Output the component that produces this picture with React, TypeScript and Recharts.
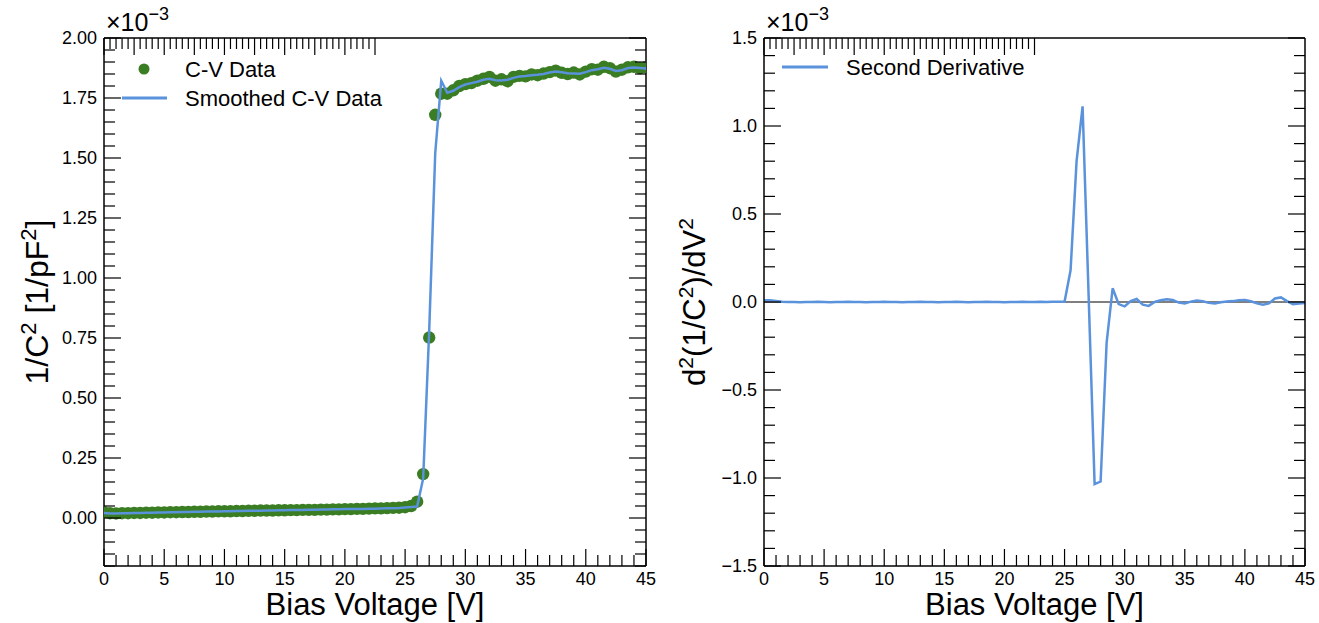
import React from 'react';
import { ComposedChart, Scatter, Line, XAxis, YAxis, ReferenceLine } from 'recharts';

// bias voltage in V
const voltage = [
  0, 0.5, 1, 1.5, 2, 2.5, 3, 3.5, 4, 4.5,
  5, 5.5, 6, 6.5, 7, 7.5, 8, 8.5, 9, 9.5,
  10, 10.5, 11, 11.5, 12, 12.5, 13, 13.5, 14, 14.5,
  15, 15.5, 16, 16.5, 17, 17.5, 18, 18.5, 19, 19.5,
  20, 20.5, 21, 21.5, 22, 22.5, 23, 23.5, 24, 24.5,
  25, 25.5, 26, 26.5, 27, 27.5, 28, 28.5, 29, 29.5,
  30, 30.5, 31, 31.5, 32, 32.5, 33, 33.5, 34, 34.5,
  35, 35.5, 36, 36.5, 37, 37.5, 38, 38.5, 39, 39.5,
  40, 40.5, 41, 41.5, 42, 42.5, 43, 43.5, 44, 44.5,
  45,
];

// 1/C^2 in units of 1e-3 / pF^2
const cvData = [
  0.024, 0.020, 0.019, 0.020, 0.020, 0.021, 0.021, 0.022, 0.022, 0.023,
  0.023, 0.024, 0.024, 0.025, 0.025, 0.026, 0.026, 0.027, 0.027, 0.028,
  0.028, 0.028, 0.029, 0.029, 0.030, 0.030, 0.031, 0.031, 0.031, 0.032,
  0.032, 0.033, 0.033, 0.034, 0.034, 0.034, 0.035, 0.035, 0.036, 0.036,
  0.037, 0.037, 0.038, 0.038, 0.039, 0.040, 0.040, 0.041, 0.042, 0.043,
  0.045, 0.050, 0.068, 0.183, 0.752, 1.680, 1.768, 1.768, 1.782, 1.800,
  1.808, 1.812, 1.822, 1.830, 1.838, 1.822, 1.828, 1.820, 1.838, 1.842,
  1.840, 1.848, 1.845, 1.852, 1.858, 1.864, 1.855, 1.850, 1.856, 1.848,
  1.860, 1.870, 1.868, 1.880, 1.874, 1.860, 1.868, 1.878, 1.880, 1.874,
  1.878,
];

const cvSmoothed = [
  0.021, 0.019, 0.019, 0.020, 0.020, 0.021, 0.021, 0.022, 0.022, 0.023,
  0.023, 0.024, 0.024, 0.025, 0.025, 0.026, 0.026, 0.027, 0.027, 0.027,
  0.028, 0.028, 0.029, 0.029, 0.030, 0.030, 0.030, 0.031, 0.031, 0.032,
  0.032, 0.033, 0.033, 0.033, 0.034, 0.034, 0.035, 0.035, 0.036, 0.036,
  0.037, 0.037, 0.038, 0.038, 0.039, 0.039, 0.040, 0.041, 0.041, 0.042,
  0.044, 0.046, 0.048, 0.165, 0.780, 1.520, 1.822, 1.772, 1.780, 1.795,
  1.806, 1.812, 1.818, 1.826, 1.830, 1.824, 1.823, 1.826, 1.834, 1.840,
  1.842, 1.845, 1.847, 1.850, 1.856, 1.860, 1.857, 1.853, 1.852, 1.851,
  1.858, 1.866, 1.870, 1.876, 1.872, 1.863, 1.866, 1.875, 1.877, 1.875,
  1.873,
];

// d2(1/C^2)/dV^2 in units of 1e-3
const secondDerivative = [
  0.010, 0.010, 0.006, 0.002, 0.000, 0.000, -0.001, 0.000, 0.000, 0.001,
  0.000, -0.001, 0.000, 0.000, 0.001, 0.000, 0.000, -0.001, 0.000, 0.000,
  0.001, 0.000, 0.000, -0.001, 0.000, 0.000, 0.001, 0.000, 0.000, -0.001,
  0.000, 0.000, 0.001, 0.000, -0.001, 0.000, 0.000, 0.001, 0.000, 0.000,
  -0.001, 0.000, 0.000, 0.001, 0.000, 0.000, 0.001, 0.000, 0.001, 0.002,
  0.002, 0.180, 0.800, 1.112, 0.040, -1.035, -1.020, -0.230, 0.078, -0.012,
  -0.025, 0.005, 0.017, -0.015, -0.022, 0.000, 0.010, 0.015, 0.012, -0.003,
  -0.008, 0.002, 0.008, 0.004, -0.005, -0.008, -0.002, 0.003, 0.005, 0.010,
  0.012, 0.004, -0.008, -0.016, -0.008, 0.020, 0.026, 0.005, -0.012, -0.008,
  -0.006,
];

const xRange = [0, 45];
const xMajorStep = 5;
const xMinorStep = 1;
const leftRange = [-0.2, 2.0];
const leftMajorStep = 0.25;
const leftMinorStep = 0.05;
const rightRange = [-1.5, 1.5];
const rightMajorStep = 0.5;
const rightMinorStep = 0.1;

const GREEN = '#3a7d23';
const BLUE = '#5a92dc';
const FONT = '"Liberation Sans", Arial, Helvetica, sans-serif';

const PLOT_LEFT = 104;
const PLOT_TOP = 38;
const BOTTOM_H = 57;
const RIGHT_W = 14;
const HEIGHT = 623;
const MAJOR_LEN = 17;
const MINOR_LEN = 11;

const cvRows = voltage.map((v, i) => ({ v, c: cvData[i], s: cvSmoothed[i] }));
const d2Rows = voltage.map((v, i) => ({ v, d: secondDerivative[i] }));

// tick positions (every minor step, majors picked out when drawing)
function tickList(lo: number, hi: number, step: number) {
  const n = Math.round((hi - lo) / step);
  const k = Math.round(1 / step);
  const out: number[] = [];
  for (let i = 0; i <= n; i++) out.push(Math.round(lo * k) / k + i / k);
  return out.map((t) => Math.round(t * 1000) / 1000);
}

function isMajor(v: number, step: number) {
  const r = v / step;
  return Math.abs(r - Math.round(r)) < 1e-6;
}

const minus = (s: string) => s.replace('-', '\u2212');

function makeTick(side: 'bottom' | 'top' | 'left' | 'right', step: number, digits?: number) {
  return (props: any) => {
    const { x, y, payload } = props;
    const v = payload.value as number;
    const major = isMajor(v, step);
    const len = major ? MAJOR_LEN : MINOR_LEN;
    let x2 = x;
    let y2 = y;
    if (side === 'bottom') y2 = y - len;
    if (side === 'top') y2 = y + len;
    if (side === 'left') x2 = x + len;
    if (side === 'right') x2 = x - len;
    const label = major && digits !== undefined ? minus(v.toFixed(digits)) : null;
    return (
      <g>
        <line x1={x} y1={y} x2={x2} y2={y2} stroke="#000" strokeWidth={1.2} />
        {label && side === 'bottom' && (
          <text x={x} y={y + 19} textAnchor="middle" fontSize={18} fontFamily={FONT} fill="#000">
            {label}
          </text>
        )}
        {label && side === 'left' && (
          <text x={x - 7} y={y + 6} textAnchor="end" fontSize={18} fontFamily={FONT} fill="#000">
            {label}
          </text>
        )}
      </g>
    );
  };
}

const Exponent = () => (
  <text x={106} y={31} fontSize={25} fontFamily={FONT} fill="#000">
    ×10<tspan dy={-11} fontSize={18}>{'\u22123'}</tspan>
  </text>
);

const LeftDecor = () => (
  <g fontFamily={FONT} fill="#000">
    <Exponent />
    <circle cx={144} cy={69} r={5.5} fill={GREEN} />
    <text x={185} y={69} dy="0.35em" fontSize={22}>C-V Data</text>
    <line x1={122} y1={98} x2={167} y2={98} stroke={BLUE} strokeWidth={3} />
    <text x={185} y={98} dy="0.35em" fontSize={22}>Smoothed C-V Data</text>
  </g>
);

const RightDecor = () => (
  <g fontFamily={FONT} fill="#000">
    <Exponent />
    <line x1={122} y1={67} x2={168} y2={67} stroke={BLUE} strokeWidth={3} />
    <text x={186} y={67} dy="0.35em" fontSize={22}>Second Derivative</text>
  </g>
);

const XTitle = (cx: number) => () => (
  <text x={cx} y={615} textAnchor="middle" fontSize={31} fontFamily={FONT} fill="#000">
    Bias Voltage [V]
  </text>
);

const LeftYTitle = () => (
  <text x={48} y={302} transform="rotate(-90 48 302)" textAnchor="middle" fontSize={32} fontFamily={FONT} fill="#000">
    1/C<tspan dy={-12} fontSize={22}>2</tspan>
    <tspan dy={12}>{' [1/pF'}</tspan>
    <tspan dy={-12} fontSize={22}>2</tspan>
    <tspan dy={12}>]</tspan>
  </text>
);

const RightYTitle = () => (
  <text x={45} y={302} transform="rotate(-90 45 302)" textAnchor="middle" fontSize={31} fontFamily={FONT} fill="#000">
    d<tspan dy={-12} fontSize={21}>2</tspan>
    <tspan dy={12}>(1/C</tspan>
    <tspan dy={-12} fontSize={21}>2</tspan>
    <tspan dy={12}>)/dV</tspan>
    <tspan dy={-12} fontSize={21}>2</tspan>
  </text>
);

const frame = { stroke: '#000', strokeWidth: 1.5 };

function Axes({ yRange, yMajor, yMinor, digits, width, yTitle, decor }: any) {
  const xTicks = tickList(xRange[0], xRange[1], xMinorStep);
  const yTicks = tickList(yRange[0], yRange[1], yMinor);
  const plotW = width - PLOT_LEFT - RIGHT_W;
  return [
    <XAxis
      key="xb"
      xAxisId="b"
      type="number"
      dataKey="v"
      domain={xRange}
      allowDataOverflow
      ticks={xTicks}
      interval={0}
      height={BOTTOM_H}
      tickSize={0}
      tickMargin={0}
      tickLine={false}
      axisLine={frame}
      tick={makeTick('bottom', xMajorStep, 0)}
      label={XTitle(PLOT_LEFT + plotW / 2)}
    />,
    <XAxis
      key="xt"
      xAxisId="t"
      orientation="top"
      type="number"
      domain={xRange}
      allowDataOverflow
      ticks={xTicks}
      interval={0}
      height={PLOT_TOP}
      tickSize={0}
      tickMargin={0}
      tickLine={false}
      axisLine={frame}
      tick={makeTick('top', xMajorStep)}
      label={decor}
    />,
    <YAxis
      key="yl"
      yAxisId="l"
      type="number"
      domain={yRange}
      allowDataOverflow
      ticks={yTicks}
      interval={0}
      width={PLOT_LEFT}
      tickSize={0}
      tickMargin={0}
      tickLine={false}
      axisLine={frame}
      tick={makeTick('left', yMajor, digits)}
      label={yTitle}
    />,
    <YAxis
      key="yr"
      yAxisId="r"
      orientation="right"
      type="number"
      domain={yRange}
      allowDataOverflow
      ticks={yTicks}
      interval={0}
      width={RIGHT_W}
      tickSize={0}
      tickMargin={0}
      tickLine={false}
      axisLine={frame}
      tick={makeTick('right', yMajor)}
    />,
  ];
}

function CvPanel() {
  const width = 660;
  return (
    <ComposedChart width={width} height={HEIGHT} data={cvRows} margin={{ top: 0, right: 0, bottom: 0, left: 0 }}>
      {Axes({
        yRange: leftRange,
        yMajor: leftMajorStep,
        yMinor: leftMinorStep,
        digits: 2,
        width,
        yTitle: LeftYTitle,
        decor: LeftDecor,
      })}
      <Scatter
        data={cvRows}
        dataKey="c"
        xAxisId="b"
        yAxisId="l"
        isAnimationActive={false}
        zIndex={500}
        shape={(p: any) => <circle cx={p.cx} cy={p.cy} r={6.2} fill={GREEN} />}
      />
      <Line
        data={cvRows}
        dataKey="s"
        xAxisId="b"
        yAxisId="l"
        type="linear"
        stroke={BLUE}
        strokeWidth={2.5}
        dot={false}
        activeDot={false}
        zIndex={900}
        isAnimationActive={false}
      />
    </ComposedChart>
  );
}

function DerivativePanel() {
  const width = 659;
  return (
    <ComposedChart width={width} height={HEIGHT} data={d2Rows} margin={{ top: 0, right: 0, bottom: 0, left: 0 }}>
      {Axes({
        yRange: rightRange,
        yMajor: rightMajorStep,
        yMinor: rightMinorStep,
        digits: 1,
        width,
        yTitle: RightYTitle,
        decor: RightDecor,
      })}
      <ReferenceLine y={0} xAxisId="b" yAxisId="l" stroke="#000" strokeOpacity={1} strokeWidth={1} />
      <Line
        data={d2Rows}
        dataKey="d"
        xAxisId="b"
        yAxisId="l"
        type="linear"
        stroke={BLUE}
        strokeWidth={2.5}
        dot={false}
        activeDot={false}
        isAnimationActive={false}
      />
    </ComposedChart>
  );
}

export default function App() {
  return (
    <div style={{ position: 'absolute', left: 0, top: 0, width: 1319, height: 623, background: '#fff' }}>
      <div style={{ position: 'absolute', left: 0, top: 0 }}>
        <CvPanel />
      </div>
      <div style={{ position: 'absolute', left: 660, top: 0 }}>
        <DerivativePanel />
      </div>
    </div>
  );
}
